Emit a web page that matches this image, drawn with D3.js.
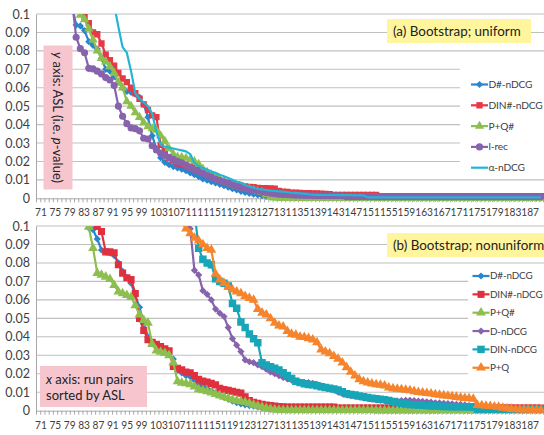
<!DOCTYPE html>
<html><head><meta charset="utf-8">
<script src="https://cdn.jsdelivr.net/npm/d3@7"></script>
<style>
body{margin:0;background:#fff}
svg{display:block;font-family:Lato,"Open Sans",sans-serif}
</style>
</head><body>
<svg id="c" width="544" height="435"></svg>
<script>
// ---------- data ----------
const categories = [71,72,73,74,75,76,77,78,79,80,81,82,83,84,85,86,87,88,89,90,
 91,92,93,94,95,96,97,98,99,100,101,102,103,104,105,106,107,108,109,110,
 111,112,113,114,115,116,117,118,119,120,121,122,123,124,125,126,127,128,129,130,
 131,132,133,134,135,136,137,138,139,140,141,142,143,144,145,146,147,148,149,150,
 151,152,153,154,155,156,157,158,159,160,161,162,163,164,165,166,167,168,169,170,
 171,172,173,174,175,176,177,178,179,180,181,182,183,184,185,186,187,188,189,190];
const tickLabels = ["71","75","79","83","87","91","95","99","103","107","111","115","119","123","127",
 "131","135","139","143","147","151","155","159","163","167","171","175","179","183","187"];
const yTickVals = [0,0.01,0.02,0.03,0.04,0.05,0.06,0.07,0.08,0.09,0.1];

// (a) Bootstrap; uniform
const aDsharp = [null,null,null,null,null,null,null,null,
 0.105,0.094,0.0935,0.091,0.085,0.083,0.081,0.076,0.070,0.069,0.066,0.063,
 0.060,0.058,0.0575,0.0565,0.0548,0.051,0.044,0.034,0.027,0.022,
 0.0195,0.0182,0.0172,0.0165,0.0158,0.0150,0.0138,0.0128,0.0118,0.0105,
 0.0098,0.0090,0.0083,0.0076,0.0068,0.0060,0.0052,0.0045,0.0038,0.0032,
 0.0027,0.0022,0.0018,0.0014,0.0011,0.0009,0.0007,0.0005,0.0004,0.0003,
 0.0002,0.0002,0.0002,0.0002,0.0002,0.0002,0.0002,0.0002,0.0002,0.0002,
 0.0002,0.0002,0.0002,0.0002,0.0002,0.0002,0.0002,0.0002,0.0002,0.0002,
 0.0001,0.0001,0.0001,0.0001,0.0001,0.0001,0.0001,0.0001,0.0001,0.0001,
 0.0001,0.0001,0.0001,0.0001,0.0001,0.0001,0.0001,0.0001,0.0001,0.0001,
 0.0001,0.0001,0.0001,0.0001,0.0001,0.0001,0.0001,0.0001,0.0001,0.0001,
 0.0001,0.0001,0.0001,0.0001,0.0001,0.0001,0.0001,0.0001,0.0001,0.0001];
const aDINsharp = [null,null,null,null,null,null,null,null,null,null,
 0.104,0.0985,0.095,0.090,0.089,0.084,0.078,0.075,0.072,0.068,
 0.065,0.063,0.060,0.057,0.054,0.051,0.048,0.045,0.044,0.029,
 0.0255,0.022,0.0205,0.019,0.0182,0.0178,0.0172,0.0165,0.0158,0.0148,
 0.0138,0.0125,0.011,0.0095,0.0088,0.0085,0.0082,0.0075,0.0068,0.0064,
 0.0062,0.0060,0.0056,0.0055,0.0055,0.0054,0.0052,0.0040,0.0036,0.0034,
 0.0030,0.0030,0.0029,0.0028,0.0028,0.0027,0.0026,0.0025,0.0024,0.0022,
 0.0018,0.0018,0.0018,0.0018,0.0018,0.0018,0.0018,0.0018,0.0018,0.0018,
 0.0018,0.0011,0.0011,0.0011,0.0011,0.0011,0.0011,0.0011,0.0011,0.0011,
 0.0011,0.0011,0.0011,0.0011,0.0011,0.0011,0.0011,0.0011,0.0011,0.0011,
 0.0011,0.0011,0.0011,0.0011,0.0011,0.0011,0.0011,0.0011,0.0011,0.0011,
 0.0011,0.0011,0.0011,0.0011,0.0011,0.0011,0.0011,0.0011,0.0011,0.0011];
const aPQsharp = [null,null,null,null,null,null,null,null,null,
 0.106,0.0995,0.097,0.092,0.086,0.080,0.076,0.074,0.0715,0.068,0.063,
 0.060,0.0525,0.050,0.0465,0.044,0.041,0.039,0.0378,0.037,0.034,
 0.031,0.027,0.024,0.0225,0.0222,0.0218,0.021,0.020,0.0185,0.016,
 0.0142,0.0128,0.0115,0.0102,0.0093,0.0085,0.0076,0.0068,0.0061,0.0056,
 0.0050,0.0044,0.0038,0.0032,0.0020,0.0008,0.0003,0.0002,0.0002,0.0002,
 0.0002,0.0002,0.0002,0.0002,0.0002,0.0002,0.0002,0.0002,0.0002,0.0002,
 0.0002,0.0002,0.0002,0.0002,0.0002,0.0002,0.0002,0.0002,0.0002,0.0002,
 0.0001,0.0001,0.0001,0.0001,0.0001,0.0001,0.0001,0.0001,0.0001,0.0001,
 0.0001,0.0001,0.0001,0.0001,0.0001,0.0001,0.0001,0.0001,0.0001,0.0001,
 0.0001,0.0001,0.0001,0.0001,0.0001,0.0001,0.0001,0.0001,0.0001,0.0001,
 0.0001,0.0001,0.0001,0.0001,0.0001,0.0001,0.0001,0.0001,0.0001,0.0001];
const aLrec = [null,null,null,null,null,null,null,null,
 0.108,0.0874,0.0812,0.079,0.0705,0.0702,0.069,0.0675,0.0655,0.0642,0.0612,0.050,
 0.0445,0.0405,0.0382,0.0378,0.0366,0.0326,0.0322,0.0285,0.0262,0.0245,
 0.0232,0.0222,0.0212,0.0200,0.0193,0.0180,0.0165,0.0155,0.0145,0.0136,
 0.0125,0.0115,0.0105,0.0098,0.0090,0.0082,0.0073,0.0066,0.0058,0.0053,
 0.0048,0.0044,0.0040,0.0035,0.0031,0.0028,0.0025,0.0022,0.0020,0.0019,
 0.0018,0.0017,0.0016,0.0015,0.0015,0.0014,0.0014,0.0014,0.0014,0.0014,
 0.0014,0.0014,0.0014,0.0009,0.0009,0.0009,0.0009,0.0009,0.0009,0.0009,
 0.0009,0.0009,0.0009,0.0009,0.0009,0.0009,0.0009,0.0009,0.0009,0.0009,
 0.0009,0.0009,0.0009,0.0009,0.0009,0.0009,0.0009,0.0009,0.0009,0.0009,
 0.0009,0.0009,0.0009,0.0009,0.0009,0.0009,0.0009,0.0009,0.0009,0.0009,
 0.0009,0.0009,0.0009,0.0009,0.0009,0.0009,0.0009,0.0009,0.0009,0.0009];
const aAlpha = [null,null,null,null,null,null,null,null,null,null,
 null,null,null,null,null,null,null,null,0.105,0.093,
 0.082,0.079,0.069,0.057,0.054,0.052,0.050,0.046,0.036,0.029,
 0.028,0.0275,0.027,0.0265,0.026,0.0255,0.024,0.019,0.0175,0.0165,
 0.0155,0.0145,0.0138,0.0128,0.0120,0.0110,0.0100,0.0090,0.0085,0.0072,
 0.0064,0.0058,0.0052,0.0048,0.0045,0.0042,0.0040,0.0038,0.0036,0.0033,
 0.0030,0.0029,0.0027,0.0025,0.0022,0.0020,0.0019,0.0018,0.0018,0.0018,
 0.0018,0.0017,0.0017,0.0017,0.0017,0.0016,0.0016,0.0016,0.0005,0.0005,
 0.0005,0.0005,0.0005,0.0005,0.0005,0.0005,0.0005,0.0005,0.0005,0.0005,
 0.0005,0.0005,0.0005,0.0005,0.0005,0.0005,0.0005,0.0005,0.0005,0.0005,
 0.0005,0.0005,0.0005,0.0005,0.0005,0.0005,0.0005,0.0005,0.0005,0.0005,
 0.0005,0.0005,0.0005,0.0005,0.0005,0.0005,0.0005,0.0005,0.0005,0.0005];

// (b) Bootstrap; nonuniform
const bDsharp = [null,null,null,null,null,null,null,null,null,null,null,
 0.105,0.099,0.098,0.093,0.087,0.086,0.0855,0.084,0.080,
 0.0755,0.072,0.069,0.0625,0.056,0.047,0.040,0.037,0.0355,0.034,
 0.032,0.0305,0.028,0.022,0.0205,0.019,0.0184,0.0165,0.0148,0.0132,
 0.012,0.0108,0.0096,0.0085,0.0074,0.0063,0.0052,0.0043,0.0037,0.0032,
 0.0028,0.0024,0.0020,0.0016,0.0012,0.0009,0.0007,0.0005,0.0004,0.0003,
 0.0003,0.0003,0.0003,0.0003,0.0003,0.0003,0.0003,0.0003,0.0003,0.0003,
 0.0003,0.0003,0.0003,0.0003,0.0003,0.0003,0.0003,0.0003,0.0003,0.0003,
 0.0002,0.0002,0.0002,0.0002,0.0002,0.0002,0.0002,0.0002,0.0002,0.0002,
 0.0002,0.0002,0.0002,0.0002,0.0002,0.0002,0.0002,0.0002,0.0002,0.0002,
 0.0002,0.0002,0.0002,0.0002,0.0002,0.0002,0.0002,0.0002,0.0002,0.0002,
 0.0002,0.0002,0.0002,0.0002,0.0002,0.0002,0.0002,0.0002,0.0002,0.0002];
const bDINsharp = [null,null,null,null,null,null,null,null,null,null,null,null,null,
 0.108,0.0998,0.097,0.086,0.086,0.0855,0.079,
 0.0745,0.072,0.071,0.0635,0.050,0.0435,0.0385,0.037,0.036,0.0348,
 0.0335,0.0325,0.024,0.023,0.0222,0.021,0.0205,0.019,0.017,0.016,
 0.0155,0.0148,0.014,0.0122,0.0115,0.011,0.0105,0.010,0.0095,0.0075,
 0.0055,0.0045,0.0040,0.0035,0.0031,0.0028,0.0025,0.0022,0.0021,0.0020,
 0.0020,0.0020,0.0020,0.0020,0.0020,0.0020,0.0020,0.0020,0.0020,0.0020,
 0.0020,0.0015,0.0015,0.0015,0.0015,0.0015,0.0015,0.0015,0.0015,0.0015,
 0.0015,0.0015,0.0015,0.0015,0.0015,0.0015,0.0015,0.0015,0.0015,0.0015,
 0.0015,0.0015,0.0015,0.0015,0.0015,0.0015,0.0015,0.0015,0.0015,0.0015,
 0.0015,0.0015,0.0015,0.0015,0.0015,0.0015,0.0015,0.0015,0.0015,0.0015,
 0.0015,0.0015,0.0015,0.0015,0.0015,0.0015,0.0015,0.0015,0.0015,0.0015];
const bPQsharp = [null,null,null,null,null,null,null,null,null,null,null,
 0.105,0.0995,0.088,0.0745,0.0735,0.0725,0.0712,0.068,0.0645,
 0.0635,0.0625,0.0615,0.057,0.052,0.049,0.0475,0.036,0.0325,0.0318,
 0.0312,0.030,0.026,0.0158,0.0150,0.0148,0.0142,0.013,0.0115,0.011,
 0.0105,0.0098,0.0090,0.0082,0.0075,0.0068,0.0060,0.0054,0.0050,0.0046,
 0.0040,0.0032,0.0026,0.0020,0.0014,0.0010,0.0006,0.0004,0.0003,0.0003,
 0.0003,0.0003,0.0003,0.0003,0.0003,0.0003,0.0003,0.0003,0.0003,0.0003,
 0.0003,0.0003,0.0003,0.0003,0.0003,0.0003,0.0003,0.0003,0.0003,0.0003,
 0.0002,0.0002,0.0002,0.0002,0.0002,0.0002,0.0002,0.0002,0.0002,0.0002,
 0.0002,0.0002,0.0002,0.0002,0.0002,0.0002,0.0002,0.0002,0.0002,0.0002,
 0.0002,0.0002,0.0002,0.0002,0.0002,0.0002,0.0002,0.0002,0.0002,0.0002,
 0.0002,0.0002,0.0002,0.0002,0.0002,0.0002,0.0002,0.0002,0.0002,0.0002];
const bDnDCG = [null,null,null,null,null,null,null,null,null,null,
 null,null,null,null,null,null,null,null,null,null,
 null,null,null,null,null,null,null,null,null,null,
 null,null,null,null,null,0.102,0.0985,0.076,0.0735,0.065,
 0.063,0.060,0.055,0.0528,0.051,0.045,0.039,0.0355,0.032,0.0275,
 0.0265,0.026,0.0248,0.0238,0.0225,0.021,0.020,0.019,0.018,0.0172,
 0.0165,0.016,0.0155,0.0153,0.0152,0.0148,0.0143,0.0135,0.0128,0.0120,
 0.0112,0.0100,0.0092,0.0087,0.0082,0.0078,0.0075,0.0070,0.0066,0.0062,
 0.0058,0.0056,0.0055,0.0053,0.0050,0.0052,0.0055,0.0056,0.0056,0.0054,
 0.0052,0.0050,0.0048,0.0046,0.0043,0.0042,0.0040,0.0039,0.0037,0.0035,
 0.0034,0.0031,0.0028,0.0025,0.0022,0.0019,0.0016,0.0015,0.0013,0.0012,
 0.0012,0.0012,0.0012,0.0012,0.0012,0.0011,0.0011,0.0011,0.0011,0.0011];
const bDINnDCG = [null,null,null,null,null,null,null,null,null,null,
 null,null,null,null,null,null,null,null,null,null,
 null,null,null,null,null,null,null,null,null,null,
 null,null,null,null,null,null,null,0.108,0.088,0.082,
 0.080,0.079,0.0715,0.070,0.069,0.0675,0.058,0.0555,0.048,0.045,
 0.0415,0.039,0.0368,0.026,0.0248,0.0238,0.023,0.022,0.0205,0.019,
 0.0175,0.016,0.0152,0.0146,0.0142,0.0140,0.0135,0.0130,0.0125,0.0122,
 0.0118,0.0112,0.0102,0.0092,0.0088,0.0085,0.0080,0.0076,0.0072,0.0068,
 0.0065,0.0062,0.0060,0.0055,0.0050,0.0045,0.0040,0.0036,0.0034,0.0032,
 0.0031,0.0030,0.0028,0.0026,0.0025,0.0024,0.0023,0.0023,0.0022,0.0022,
 0.0022,0.0021,0.0021,0.0020,0.0008,0.0008,0.0008,0.0008,0.0008,0.0008,
 0.0008,0.0008,0.0008,0.0008,0.0008,0.0008,0.0008,0.0008,0.0008,0.0008];
const bPQ = [null,null,null,null,null,null,null,null,null,null,
 null,null,null,null,null,null,null,null,null,null,
 null,null,null,null,null,null,null,null,null,null,
 null,null,null,null,0.102,0.0985,0.096,0.0935,0.092,0.090,
 0.088,0.087,0.074,0.071,0.069,0.067,0.0655,0.0645,0.0635,0.062,
 0.061,0.060,0.055,0.053,0.052,0.050,0.0475,0.046,0.0455,0.043,
 0.0415,0.041,0.040,0.0398,0.0392,0.0385,0.037,0.033,0.032,0.031,
 0.0295,0.028,0.026,0.0235,0.021,0.019,0.017,0.0158,0.0152,0.0146,
 0.0142,0.0140,0.0135,0.0125,0.0120,0.0118,0.0115,0.0112,0.0110,0.0105,
 0.0100,0.0098,0.0095,0.0092,0.0088,0.0085,0.0082,0.0080,0.0077,0.0074,
 0.0070,0.0068,0.0066,0.0064,0.0030,0.0028,0.0026,0.0024,0.0022,0.0020,
 0.0015,0.0012,0.0009,0.0007,0.0006,0.0005,0.0005,0.0004,0.0004,0.0004];

const seriesA = [
 {name:"D#-nDCG",   values:aDsharp,   color:"#2a86cc", marker:"diamond", size:26},
 {name:"DIN#-nDCG", values:aDINsharp, color:"#e63946", marker:"square",  size:40},
 {name:"P+Q#",      values:aPQsharp,  color:"#8dbf4f", marker:"triangle",size:38},
 {name:"l-rec",     values:aLrec,     color:"#8762ad", marker:"circle",  size:40},
 {name:"α-nDCG",    values:aAlpha,    color:"#22b6d6", marker:null,      size:0}
];
const seriesB = [
 {name:"D#-nDCG",   values:bDsharp,   color:"#2a86cc", marker:"diamond", size:26},
 {name:"DIN#-nDCG", values:bDINsharp, color:"#e0303f", marker:"square",  size:50},
 {name:"P+Q#",      values:bPQsharp,  color:"#8dbf4f", marker:"triangle",size:42},
 {name:"D-nDCG",    values:bDnDCG,    color:"#8762ad", marker:"diamond", size:26},
 {name:"DIN-nDCG",  values:bDINnDCG,  color:"#17a6b8", marker:"square",  size:56},
 {name:"P+Q",       values:bPQ,       color:"#f5842c", marker:"triangle",size:42}
];

// ---------- drawing ----------
const svg = d3.select("#c");
const X0 = 36, X1 = 543;
const x = d3.scaleBand().domain(categories).range([X0, X1]).padding(0);
const xb = d3.scaleLinear().domain([0, categories.length]).range([X0, X1]);
const FONT = "Lato, 'Open Sans', sans-serif";

function symbolPath(type, size) {
  const t = type === "diamond" ? d3.symbolSquare :
            type === "square" ? d3.symbolSquare :
            type === "triangle" ? d3.symbolTriangle : d3.symbolCircle;
  return d3.symbol().type(t).size(size)();
}

function drawPanel(cfg) {
  const g = svg.append("g");
  const y = d3.scaleLinear().domain([0, 0.1]).range([cfg.yBottom, cfg.yTop]);

  g.append("g").selectAll("line").data(yTickVals.filter(v => v > 0)).join("line")
    .attr("x1", X0).attr("x2", 544).attr("y1", d => y(d)).attr("y2", d => y(d))
    .attr("stroke", "#c0c0c0").attr("stroke-width", 1.1);

  const ya = g.append("g").attr("transform", `translate(${X0},0)`)
    .call(d3.axisLeft(y).tickValues(yTickVals).tickSize(0).tickPadding(6)
      .tickFormat(d => String(+d.toFixed(2))));
  ya.select(".domain").attr("stroke", "#a8a8a8").attr("stroke-width", 1);
  ya.selectAll("text").attr("font-size", 12.5).attr("fill", "#404040").attr("font-family", FONT);

  const xa = g.append("g").attr("transform", `translate(0,${cfg.yBottom})`)
    .call(d3.axisBottom(xb).tickValues(d3.range(0, categories.length + 1)).tickSize(4)
      .tickSizeOuter(0).tickFormat(""));
  xa.select(".domain").attr("stroke", "#a8a8a8");
  xa.selectAll(".tick line").attr("stroke", "#a8a8a8");

  const lab = g.append("text").attr("x", 35).attr("y", cfg.yBottom + 18)
    .attr("textLength", 504).attr("lengthAdjust", "spacingAndGlyphs")
    .attr("font-size", 11).attr("fill", "#404040").attr("font-family", FONT)
    .style("white-space", "pre");
  lab.selectAll("tspan").data(tickLabels).join("tspan")
    .text(d => d.length < 3 ? d + " " : d);

  const cid = "clip" + cfg.id;
  svg.append("defs").append("clipPath").attr("id", cid).append("rect")
    .attr("x", X0).attr("y", cfg.yTop).attr("width", 544 - X0).attr("height", cfg.yBottom - cfg.yTop + 5);

  const plot = g.append("g").attr("clip-path", `url(#${cid})`);
  const cx = i => x(categories[i]) + x.bandwidth() / 2;

  cfg.series.forEach(s => {
    const line = d3.line().defined(d => d != null).x((d, i) => cx(i)).y(d => y(d));
    plot.append("path").attr("d", line(s.values)).attr("fill", "none")
      .attr("stroke", s.color).attr("stroke-width", 2.2).attr("stroke-linejoin", "round");
    if (s.marker) {
      const p = symbolPath(s.marker, s.size);
      plot.append("g").selectAll("path")
        .data(s.values.map((v, i) => ({v, i})).filter(d => d.v != null)).join("path")
        .attr("d", p).attr("fill", s.color)
        .attr("transform", d => `translate(${cx(d.i)},${y(d.v)})` + (s.marker === "diamond" ? " rotate(45)" : ""));
    }
  });

  const L = cfg.legend;
  g.append("rect").attr("x", L.x).attr("y", L.y).attr("width", 544 - L.x).attr("height", L.h).attr("fill", "#fff");
  cfg.series.forEach((s, i) => {
    const yy = L.first + i * L.step;
    g.append("line").attr("x1", L.lx).attr("x2", L.lx + 17).attr("y1", yy).attr("y2", yy)
      .attr("stroke", s.color).attr("stroke-width", 2.2);
    if (s.marker) {
      g.append("path").attr("d", symbolPath(s.marker, s.size)).attr("fill", s.color)
        .attr("transform", `translate(${L.lx + 8.5},${yy})` + (s.marker === "diamond" ? " rotate(45)" : ""));
    }
    g.append("text").attr("x", L.lx + 17.5).attr("y", yy).attr("dy", "0.35em")
      .attr("font-size", L.fs).attr("letter-spacing", -0.15).attr("fill", "#404040").attr("font-family", FONT).text(s.name);
  });

  const T = cfg.title;
  g.append("rect").attr("x", T.x).attr("y", T.y).attr("width", T.w).attr("height", 24).attr("fill", "#fff59d");
  g.append("text").attr("x", T.x + 6).attr("y", T.y + 12).attr("dy", "0.35em")
    .attr("font-size", 13.4).attr("fill", "#222").attr("font-family", FONT).text(T.text);
}

drawPanel({id: "a", yTop: 14, yBottom: 198.3, series: seriesA,
  legend: {x: 460, y: 57, h: 118, lx: 471, first: 84.5, step: 20.8, fs: 10.2},
  title: {x: 387, y: 19, w: 144, text: "(a) Bootstrap; uniform"}});
drawPanel({id: "b", yTop: 226, yBottom: 410.7, series: seriesB,
  legend: {x: 468, y: 266, h: 119, lx: 472.5, first: 276, step: 18.35, fs: 9.9},
  title: {x: 387, y: 233, w: 170, text: "(b) Bootstrap; nonuniform"}});

svg.append("rect").attr("x", 43.5).attr("y", 45.5).attr("width", 29).attr("height", 144).attr("fill", "#f7c5cd");
const ty = svg.append("text").attr("transform", "translate(58,117.5) rotate(90)")
  .attr("text-anchor", "middle").attr("dy", "0.35em").attr("font-size", 13).attr("fill", "#222").attr("font-family", FONT);
ty.append("tspan").attr("font-style", "italic").text("y");
ty.append("tspan").text(" axis: ASL (i.e. ");
ty.append("tspan").attr("font-style", "italic").text("p");
ty.append("tspan").text("-value)");

svg.append("rect").attr("x", 40).attr("y", 366).attr("width", 107).attr("height", 41).attr("fill", "#f7c5cd");
const tx = svg.append("text").attr("font-size", 13).attr("fill", "#222").attr("font-family", FONT);
const l1 = tx.append("tspan").attr("x", 46).attr("y", 383.5);
l1.append("tspan").attr("font-style", "italic").text("x");
l1.append("tspan").text(" axis: run pairs");
tx.append("tspan").attr("x", 46).attr("y", 400).text("sorted by ASL");
</script>
</body></html>
